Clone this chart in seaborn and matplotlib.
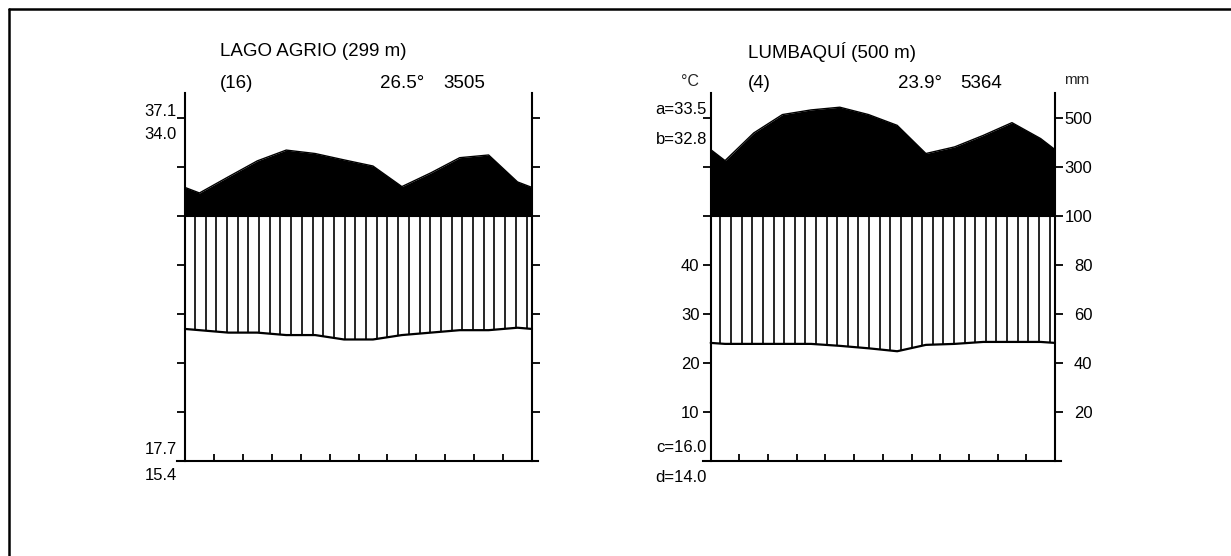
import numpy as np
import matplotlib
matplotlib.use("Agg")
import matplotlib.pyplot as plt
import seaborn as sns
from matplotlib.lines import Line2D

# station headers
stations = ["LAGO AGRIO (299 m)", "LUMBAQUÍ (500 m)"]
years = ["(16)", "(4)"]
mean_temp = ["26.5°", "23.9°"]
annual_prec = ["3505", "5364"]

# monthly mean temperature (°C), Jan..Dec
temp_lago = [26.7, 26.2, 26.2, 25.7, 25.7, 24.8, 24.8, 25.7, 26.2, 26.7, 26.7, 27.2]
temp_lumb = [23.9, 23.9, 23.9, 23.9, 23.5, 23.0, 22.4, 23.7, 23.9, 24.3, 24.3, 24.3]

# monthly precipitation (mm), Jan..Dec
prec_lago = [194, 260, 325, 369, 355, 329, 304, 220, 276, 338, 349, 239]
prec_lumb = [326, 439, 514, 533, 544, 514, 470, 355, 382, 429, 481, 416]

# extreme values written beside the left axis
extremes_lago = ["37.1", "34.0", "17.7", "15.4"]
extremes_lumb = ["a=33.5", "b=32.8", "c=16.0", "d=14.0"]

ytick_pos = [10, 20, 30, 40, 50, 60, 70]
temp_labels = ["10", "20", "30", "40", "", "", ""]
prec_labels = ["20", "40", "60", "80", "100", "300", "500"]

W, H = 1231, 556

sns.set_theme(style="ticks")
plt.rcParams["font.family"] = ["Liberation Sans", "DejaVu Sans"]


def px(x, y):
    return x / W, 1 - y / H


def scale_prec(p):
    # Walter-Lieth: 10 °C = 20 mm, above 100 mm reduced 1:10
    p = np.asarray(p, float)
    return np.where(p <= 100, p / 2, 50 + (p - 100) / 20)


def wrap(v):
    # curves are closed at the year edges with the Dec/Jan mean
    v = np.asarray(v, float)
    edge = (v[0] + v[-1]) / 2
    return np.r_[edge, v, edge]


fig = plt.figure(figsize=(W / 100, H / 100), dpi=100)

x = np.r_[0, np.arange(12) + 0.5, 12]
xlim = (-0.28, 12.2)

# axes boxes in pixels: left edge of month 0, month width
boxes = [(185.0, 347.0 / 12), (710.7, 344.3 / 12)]
bottom_px, top_px = 461.0, 92.5
ytop = (bottom_px - top_px) / 4.9

panels = [(temp_lago, prec_lago), (temp_lumb, prec_lumb)]
axes = []
for i, ((temp, prec), (x0, mw)) in enumerate(zip(panels, boxes)):
    left = x0 + xlim[0] * mw
    width = (xlim[1] - xlim[0]) * mw
    ax = fig.add_axes([left / W, (H - bottom_px) / H, width / W, (bottom_px - top_px) / H])
    t = wrap(temp)
    p = scale_prec(wrap(prec))

    ax.fill_between(x, 50, p, where=p >= 50, color="black", lw=0, interpolate=True)
    sns.lineplot(x=x, y=p, ax=ax, color="black", lw=1.0, sort=False)
    hx = np.arange(0.34, 12, 0.37)
    ax.vlines(hx, np.interp(hx, x, t), 50, color="black", lw=1.2)
    sns.lineplot(x=x, y=t, ax=ax, color="black", lw=1.6, sort=False)
    ax.plot([0, 12], [50, 50], color="black", lw=1.5)

    ax.set_xlim(*xlim)
    ax.set_ylim(0, ytop)
    ax.set_facecolor("none")
    for s in ["top", "right"]:
        ax.spines[s].set_visible(False)
    ax.spines["left"].set_position(("data", 0))
    for s in ["left", "bottom"]:
        ax.spines[s].set_linewidth(1.5)
        ax.spines[s].set_color("black")
    ax.set_xticks(range(1, 12))
    ax.tick_params(axis="x", direction="in", length=5, width=1.3, color="black",
                   labelbottom=False)
    ax.set_yticks(ytick_pos)
    ax.set_yticklabels(temp_labels if i == 1 else [""] * 7)
    ax.tick_params(axis="y", direction="out", length=6, width=1.3, color="black",
                   labelsize=12, pad=2, labelcolor="black")
    ax.set_xlabel("")
    ax.set_ylabel("")

    ax2 = ax.twinx()
    ax2.set_ylim(0, ytop)
    for s in ["top", "left", "bottom"]:
        ax2.spines[s].set_visible(False)
    ax2.spines["right"].set_position(("data", 12))
    ax2.spines["right"].set_linewidth(1.5)
    ax2.spines["right"].set_color("black")
    ax2.set_yticks(ytick_pos)
    ax2.set_yticklabels(prec_labels if i == 1 else [""] * 7)
    ax2.tick_params(axis="y", direction="out", length=6, width=1.3, color="black",
                    labelsize=12, pad=21, labelcolor="black")
    for lab in ax2.get_yticklabels():
        lab.set_horizontalalignment("right")
    axes.append(ax)

# headers
head = dict(fontsize=13.5, va="center", ha="left", color="black")
for i, x0 in enumerate([220, 748]):
    fig.text(*px(x0, 52), stations[i], **head)
    fig.text(*px(x0, 83), years[i], **head)
fig.text(*px(380, 83), mean_temp[0], **head)
fig.text(*px(443, 83), annual_prec[0], **head)
fig.text(*px(898, 83), mean_temp[1], **head)
fig.text(*px(960, 83), annual_prec[1], **head)

small = dict(fontsize=12, va="center", ha="right", color="black")
for lab, y in zip(extremes_lago, [112, 134, 449, 476]):
    fig.text(*px(177, y), lab, **small)
for lab, y in zip(extremes_lumb, [109, 140, 447, 478]):
    fig.text(*px(707, y), lab, **small)
fig.text(*px(690, 81), "°C", fontsize=11.5, va="center", ha="center")
fig.text(*px(1064, 80), "mm", fontsize=11, va="center", ha="left")

# outer frame (only top and left edges fall inside the picture)
fig.add_artist(Line2D([8.5 / W, 1], [1 - 8.5 / H, 1 - 8.5 / H],
                      transform=fig.transFigure, color="black", lw=1.8))
fig.add_artist(Line2D([8.5 / W, 8.5 / W], [0, 1 - 8.5 / H],
                      transform=fig.transFigure, color="black", lw=1.8))

fig.savefig("out.png", dpi=100)
